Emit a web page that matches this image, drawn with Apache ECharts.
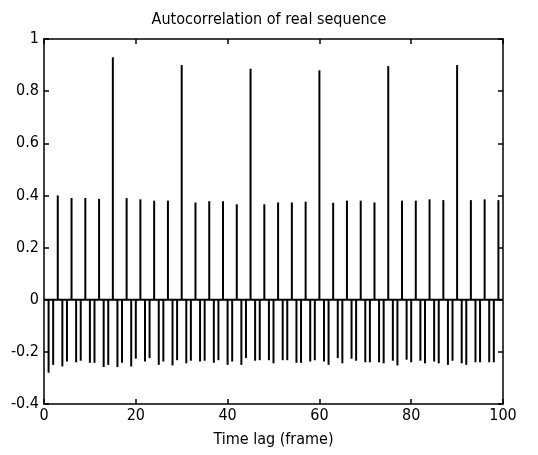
<!DOCTYPE html>
<html>
<head>
<meta charset="utf-8">
<script src="https://cdn.jsdelivr.net/npm/echarts@6/dist/echarts.min.js"></script>
<style>html,body{margin:0;padding:0;background:#fff;}#c{width:538px;height:455px;}</style>
</head>
<body>
<div id="c"></div>
<script>
const title = "Autocorrelation of real sequence";
const xName = "Time lag (frame)";
const xTicks = [0, 20, 40, 60, 80, 100];
const yTicks = [-0.4, -0.2, 0, 0.2, 0.4, 0.6, 0.8, 1];
const lags = [1,2,3,4,5,6,7,8,9,10,11,12,13,14,15,16,17,18,19,20,
  21,22,23,24,25,26,27,28,29,30,31,32,33,34,35,36,37,38,39,40,
  41,42,43,44,45,46,47,48,49,50,51,52,53,54,55,56,57,58,59,60,
  61,62,63,64,65,66,67,68,69,70,71,72,73,74,75,76,77,78,79,80,
  81,82,83,84,85,86,87,88,89,90,91,92,93,94,95,96,97,98,99];
const acf = [-0.28,-0.25,0.40,-0.256,-0.237,0.39,-0.24,-0.234,0.39,-0.242,
  -0.242,0.387,-0.258,-0.25,0.93,-0.258,-0.242,0.39,-0.256,-0.226,
  0.385,-0.237,-0.224,0.38,-0.25,-0.237,0.38,-0.252,-0.232,0.90,
  -0.244,-0.234,0.373,-0.237,-0.234,0.378,-0.242,-0.232,0.378,-0.25,
  -0.237,0.366,-0.25,-0.224,0.886,-0.234,-0.232,0.366,-0.232,-0.244,
  0.373,-0.232,-0.232,0.373,-0.242,-0.242,0.376,-0.237,-0.232,0.88,
  -0.237,-0.25,0.372,-0.224,-0.244,0.38,-0.226,-0.234,0.38,-0.24,
  -0.24,0.373,-0.24,-0.244,0.896,-0.234,-0.252,0.38,-0.23,-0.24,
  0.38,-0.234,-0.244,0.385,-0.237,-0.244,0.382,-0.25,-0.234,0.90,
  -0.244,-0.25,0.382,-0.24,-0.24,0.385,-0.24,-0.24,0.382];
const zeroLineX = [0, 100];
const zeroLineY = [0, 0];

const FONT = "'Liberation Sans Narrow','DejaVu Sans Condensed','Liberation Sans',Arial,sans-serif";
const chart = echarts.init(document.getElementById('c'), null, {renderer: 'canvas'});
const axisLine = {show: true, onZero: false, lineStyle: {color: '#000', width: 1.5}};
const tick = {show: true, inside: true, length: 5, lineStyle: {color: '#000', width: 1.5}};
const xMin = xTicks[0], xMax = xTicks[xTicks.length - 1];
const yMin = yTicks[0], yMax = yTicks[yTicks.length - 1];
chart.setOption({
  animation: false,
  backgroundColor: '#fff',
  title: {
    text: title, left: 'center', top: 7,
    textStyle: {fontFamily: FONT, fontSize: 16, fontWeight: 'normal', color: '#000'}
  },
  grid: {left: 44, right: 35, top: 39, bottom: 51},
  xAxis: [{
    type: 'value', min: xMin, max: xMax, interval: 20, position: 'bottom',
    name: xName, nameLocation: 'middle', nameGap: 28,
    nameTextStyle: {fontFamily: FONT, fontSize: 16, color: '#000'},
    axisLine: axisLine, axisTick: tick, splitLine: {show: false},
    axisLabel: {fontFamily: FONT, fontSize: 16, color: '#000', margin: 4}
  }, {
    type: 'value', min: xMin, max: xMax, interval: 20, position: 'top',
    axisLine: axisLine, axisTick: tick, splitLine: {show: false}, axisLabel: {show: false}
  }],
  yAxis: [{
    type: 'value', min: yMin, max: yMax, interval: 0.2, position: 'left',
    axisLine: axisLine, axisTick: tick, splitLine: {show: false},
    axisLabel: {fontFamily: FONT, fontSize: 16, color: '#000', margin: 5,
      formatter: v => String(Math.round(v * 10) / 10)}
  }, {
    type: 'value', min: yMin, max: yMax, interval: 0.2, position: 'right',
    axisLine: axisLine, axisTick: tick, splitLine: {show: false}, axisLabel: {show: false}
  }],
  series: [{
    type: 'bar', xAxisIndex: 0, yAxisIndex: 0,
    barWidth: 2,
    itemStyle: {color: '#000'},
    data: lags.map((l, i) => [l, acf[i]])
  }, {
    type: 'line', xAxisIndex: 0, yAxisIndex: 0, symbol: 'none',
    lineStyle: {color: '#000', width: 2},
    data: zeroLineX.map((x, i) => [x, zeroLineY[i]])
  }]
});
</script>
</body>
</html>
